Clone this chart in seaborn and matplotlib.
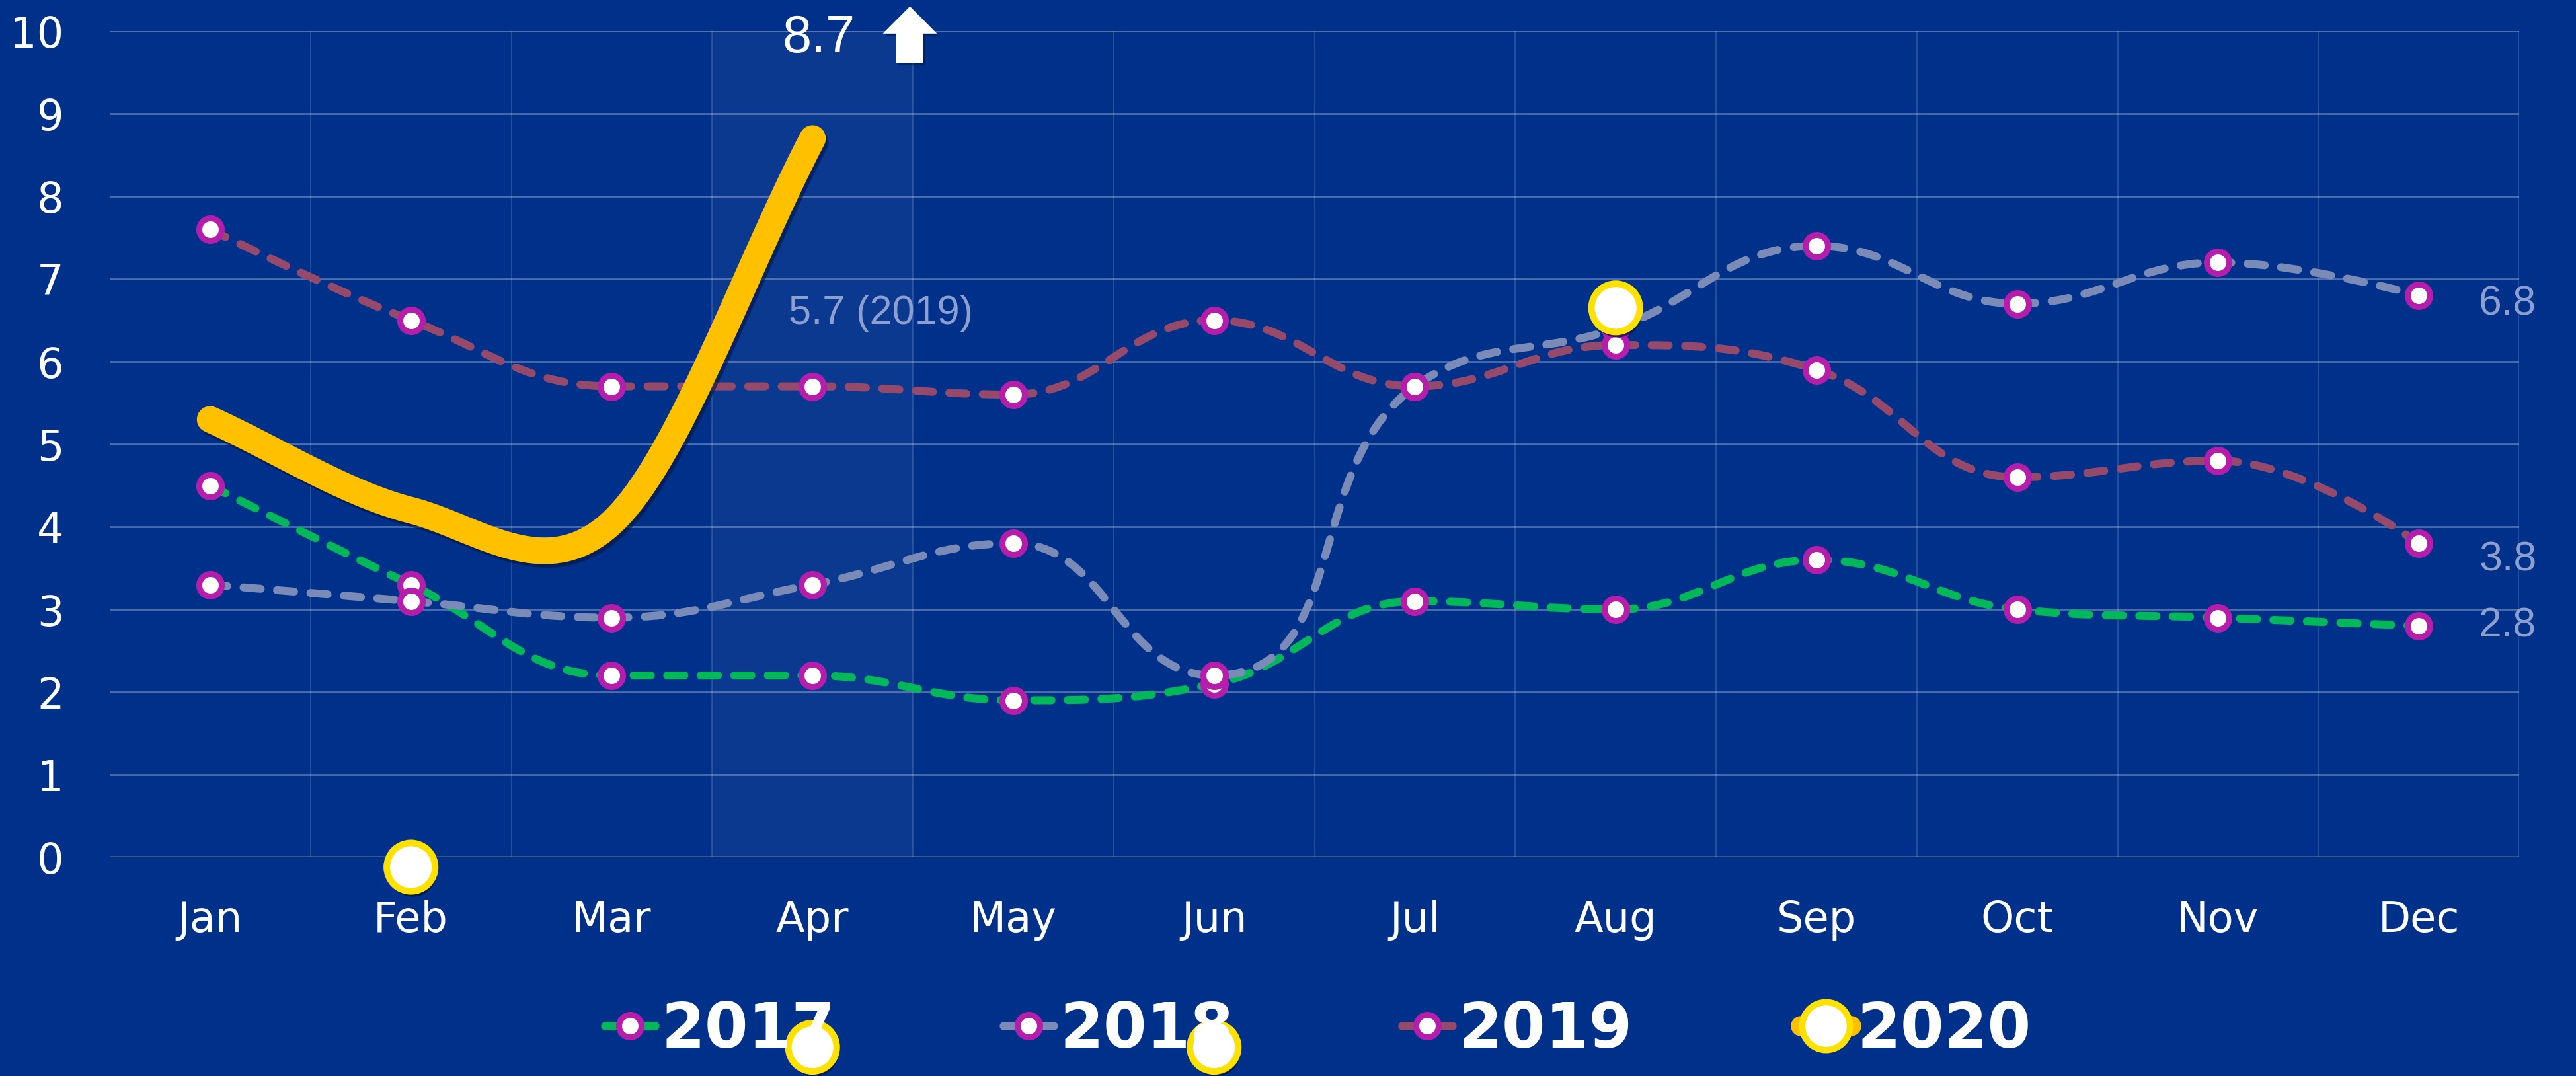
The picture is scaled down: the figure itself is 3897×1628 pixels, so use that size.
import numpy as np
import pandas as pd
import seaborn as sns
import matplotlib.pyplot as plt
import matplotlib.patheffects as pe
from matplotlib.lines import Line2D

# данные
months = ["Jan", "Feb", "Mar", "Apr", "May", "Jun", "Jul", "Aug", "Sep", "Oct", "Nov", "Dec"]
years = ["2017", "2018", "2019", "2020"]
y2017 = [4.5, 3.3, 2.2, 2.2, 1.9, 2.1, 3.1, 3.0, 3.6, 3.0, 2.9, 2.8]
y2018 = [3.3, 3.1, 2.9, 3.3, 3.8, 2.2, 5.7, 6.4, 7.4, 6.7, 7.2, 6.8]
y2019 = [7.6, 6.5, 5.7, 5.7, 5.6, 6.5, 5.7, 6.2, 5.9, 4.6, 4.8, 3.8]
y2020 = [5.3, 4.2, 4.05, 8.7]
# маркеры 2020 застыли посреди анимации
marker2020_month = ["Feb", "Aug", "Apr", "Jun"]
marker2020_y = [-0.12, 6.65, -2.3, -2.3]
apr_2019_label = "5.7 (2019)"

BG = "#00318A"
GREEN = "#00B85A"
GREY = "#7A8BB8"
MAROON = "#964A6B"
YELLOW = "#FFC000"
RING = "#FFE100"
MAGENTA = "#B41EAA"
LABEL = "#8C9FD0"


def hc_spline(xs, ys, sx=304.2, sy=125.0, steps=40):
    # сглаживание как у highcharts "spline", считается в пикселях
    X = np.asarray(xs, float) * sx
    Y = np.asarray(ys, float) * sy
    n = len(X)
    lx, ly, rx, ry = X.copy(), Y.copy(), X.copy(), Y.copy()
    sm, den = 1.5, 2.5
    for i in range(1, n - 1):
        x0, y0, x1, y1, x2, y2 = X[i - 1], Y[i - 1], X[i], Y[i], X[i + 1], Y[i + 1]
        lcx, lcy = (sm * x1 + x0) / den, (sm * y1 + y0) / den
        rcx, rcy = (sm * x1 + x2) / den, (sm * y1 + y2) / den
        dl = np.hypot(lcx - x1, lcy - y1)
        dr = np.hypot(rcx - x1, rcy - y1)
        la = np.arctan2(lcy - y1, lcx - x1)
        ra = np.arctan2(rcy - y1, rcx - x1)
        ja = np.pi / 2 + (la + ra) / 2
        if abs(la - ja) > np.pi / 2:
            ja -= np.pi
        lcx, lcy = x1 + np.cos(ja) * dl, y1 + np.sin(ja) * dl
        rcx, rcy = x1 + np.cos(np.pi + ja) * dr, y1 + np.sin(np.pi + ja) * dr
        if lcy > y0 and lcy > y1:
            lcy = max(y0, y1)
            rcy = 2 * y1 - lcy
        elif lcy < y0 and lcy < y1:
            lcy = min(y0, y1)
            rcy = 2 * y1 - lcy
        if rcy > y2 and rcy > y1:
            rcy = max(y2, y1)
            lcy = 2 * y1 - rcy
        elif rcy < y2 and rcy < y1:
            rcy = min(y2, y1)
            lcy = 2 * y1 - rcy
        lx[i], ly[i], rx[i], ry[i] = lcx, lcy, rcx, rcy
    ox, oy = [X[0]], [Y[0]]
    t = np.linspace(0, 1, steps)[1:]
    for i in range(1, n):
        px = [X[i - 1], rx[i - 1], lx[i], X[i]]
        py = [Y[i - 1], ry[i - 1], ly[i], Y[i]]
        b = [(1 - t) ** 3, 3 * (1 - t) ** 2 * t, 3 * (1 - t) * t ** 2, t ** 3]
        ox.extend(sum(b[k] * px[k] for k in range(4)))
        oy.extend(sum(b[k] * py[k] for k in range(4)))
    return np.array(ox) / sx, np.array(oy) / sy


def cr_spline(ys, steps=40):
    # catmull-rom для жёлтой линии 2020
    y = np.asarray(ys, float)
    n = len(y)
    m = np.gradient(y)
    ox, oy = [0.0], [y[0]]
    t = np.linspace(0, 1, steps)[1:]
    for i in range(n - 1):
        h00 = 2 * t ** 3 - 3 * t ** 2 + 1
        h10 = t ** 3 - 2 * t ** 2 + t
        h01 = -2 * t ** 3 + 3 * t ** 2
        h11 = t ** 3 - t ** 2
        ox.extend(i + t)
        oy.extend(h00 * y[i] + h10 * m[i] + h01 * y[i + 1] + h11 * m[i + 1])
    return np.array(ox), np.array(oy)


sns.set_theme(style="dark", rc={"axes.facecolor": BG, "figure.facecolor": BG})
plt.rcParams["font.family"] = ["DejaVu Sans"]

fig = plt.figure(figsize=(38.98, 16.28), dpi=100)
ax = fig.add_axes([0.0426, 0.2033, 0.9351, 0.7678])

# подсветка апреля
ax.axvspan(2.5, 3.5, color="white", alpha=0.045, lw=0, zorder=0.5)

series = [(y2017, GREEN), (y2018, GREY), (y2019, MAROON)]
for k, (vals, col) in enumerate(series):
    xs, ys = hc_spline(range(len(vals)), vals)
    sns.lineplot(x=xs, y=ys, sort=False, estimator=None, color=col, ax=ax, zorder=2 + k * 0.1)
    line = ax.lines[-1]
    line.set_linewidth(8.7)
    line.set_dashes((2.15, 2.05))
    line.set_dash_capstyle("round")
    sns.scatterplot(x=list(range(len(vals))), y=vals, s=600, color="white", edgecolor=MAGENTA,
                    linewidth=6.5, ax=ax, zorder=2.05 + k * 0.1)

xs, ys = cr_spline(y2020)
sns.lineplot(x=xs, y=ys, sort=False, estimator=None, color=YELLOW, ax=ax, zorder=2.4)
line = ax.lines[-1]
line.set_linewidth(29)
line.set_solid_capstyle("round")
line.set_solid_joinstyle("round")
line.set_path_effects([pe.SimpleLineShadow(offset=(3, -4), shadow_color="#001440", alpha=0.6), pe.Normal()])

sx = [months.index(m) for m in marker2020_month]
sns.scatterplot(x=sx, y=marker2020_y, s=2770, color="white", edgecolor=RING, linewidth=7.2, ax=ax, zorder=6)
coll = ax.collections[-1]
coll.set_clip_on(False)
coll.set_path_effects([pe.SimplePatchShadow(offset=(2, -6), shadow_rgbFace="#001440", alpha=0.7), pe.Normal()])

# подписи
ax.text(3.03, 9.91, f"{y2020[-1]:.1f}", color="white", fontsize=57, family="Liberation Sans",
        ha="center", va="center", clip_on=False, zorder=7)
ax.arrow(3.485, 9.616, 0, 0.684, width=0.135, head_width=0.27, head_length=0.33,
         length_includes_head=True, color="white", lw=0, clip_on=False, zorder=7,
         path_effects=[pe.SimplePatchShadow(offset=(2, -3), shadow_rgbFace="#001440", alpha=0.5), pe.Normal()])
ax.text(2.88, 6.58, apr_2019_label, color=LABEL, fontsize=44, family="Liberation Sans",
        ha="left", va="center", zorder=7)
for vals, dy in zip([y2017, y2018, y2019], [0.0, -0.1, -0.2]):
    ax.text(11.3, vals[-1] + dy, f"{vals[-1]:.1f}", color=LABEL, fontsize=45,
            family="Liberation Sans", ha="left", va="center", clip_on=False, zorder=7)

ax.set_xlim(-0.5, 11.5)
ax.set_ylim(0, 10)
ax.set_xticks(range(12))
ax.set_xticklabels(months)
ax.set_xticks(np.arange(-0.5, 12, 1), minor=True)
ax.set_yticks(range(11))
ax.grid(False)
ax.grid(axis="x", which="minor", color="white", alpha=0.14, lw=1.5)
ax.grid(axis="y", which="major", color="white", alpha=0.3, lw=2)
ax.axhline(0, color="#C8D0E6", lw=2.5, zorder=1)
ax.tick_params(axis="both", which="both", length=0, labelsize=46, labelcolor="white")
ax.tick_params(axis="x", pad=46)
ax.tick_params(axis="y", pad=50)
ax.set(xlabel="", ylabel="")
sns.despine(ax=ax, left=True, bottom=True)

handles = [Line2D([0], [0], color=c, lw=9, marker="o", ms=24.5, mfc="white", mec=MAGENTA, mew=6.5)
           for c in [GREEN, GREY, MAROON]]
handles.append(Line2D([0], [0], color=YELLOW, lw=22, marker="o", ms=52, mfc="white", mec=RING, mew=7))
fig.legend(handles, years, loc="center", bbox_to_anchor=(0.5115, 0.0424), ncol=4, frameon=False,
           prop={"weight": "bold", "size": 68}, labelcolor="white", handlelength=0.8,
           handletextpad=0.1, columnspacing=2.7)

fig.savefig("out.png", dpi=100, facecolor=BG)
